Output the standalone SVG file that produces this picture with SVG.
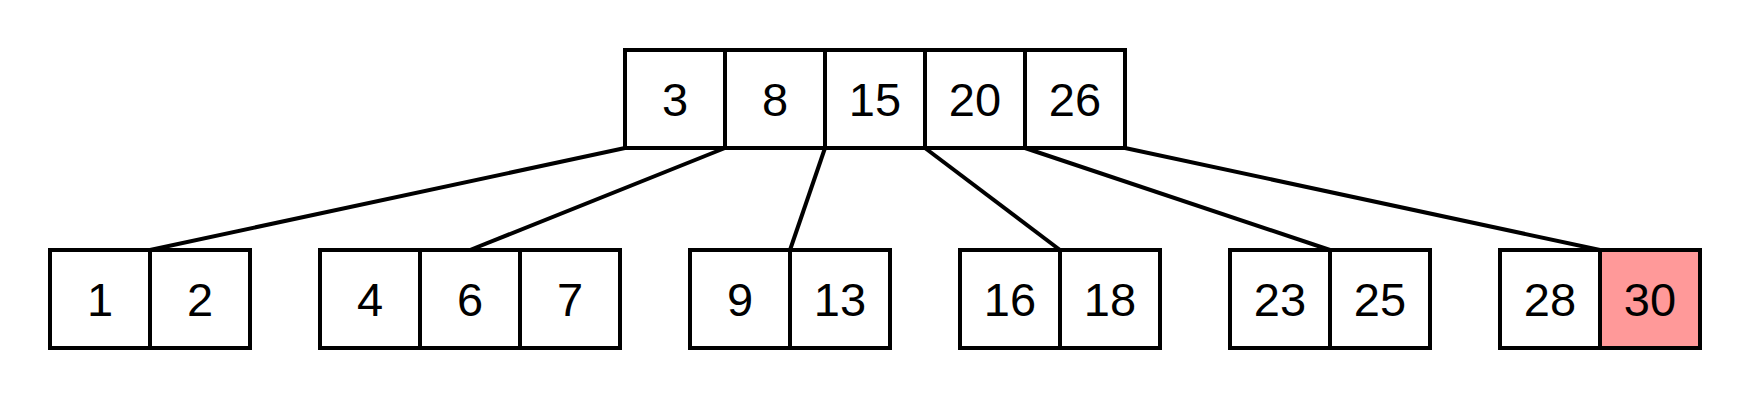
<svg xmlns="http://www.w3.org/2000/svg" width="1750" height="400" viewBox="0 0 1750 400">
<style>
.c{fill:#fff;stroke:#000;stroke-width:4}
.h{fill:#ff9999}
.t{font-family:"Liberation Sans",Arial,sans-serif;font-size:47px;text-anchor:middle;dominant-baseline:central;fill:#000}
.e{stroke:#000;stroke-width:4;fill:none}
</style>
<rect width="1750" height="400" fill="#fff"/>
<g id="connectors">
<line class="e" x1="625" y1="148" x2="150" y2="250"/>
<line class="e" x1="725" y1="148" x2="470" y2="250"/>
<line class="e" x1="825" y1="148" x2="790" y2="250"/>
<line class="e" x1="925" y1="148" x2="1060" y2="250"/>
<line class="e" x1="1025" y1="148" x2="1330" y2="250"/>
<line class="e" x1="1125" y1="148" x2="1600" y2="250"/>
</g>
<g id="root">
<rect class="c" x="625" y="50" width="100" height="98"/><text class="t" x="675" y="99">3</text>
<rect class="c" x="725" y="50" width="100" height="98"/><text class="t" x="775" y="99">8</text>
<rect class="c" x="825" y="50" width="100" height="98"/><text class="t" x="875" y="99">15</text>
<rect class="c" x="925" y="50" width="100" height="98"/><text class="t" x="975" y="99">20</text>
<rect class="c" x="1025" y="50" width="100" height="98"/><text class="t" x="1075" y="99">26</text>
</g>
<g id="leaf1">
<rect class="c" x="50" y="250" width="100" height="98"/><text class="t" x="100" y="299">1</text>
<rect class="c" x="150" y="250" width="100" height="98"/><text class="t" x="200" y="299">2</text>
</g>
<g id="leaf2">
<rect class="c" x="320" y="250" width="100" height="98"/><text class="t" x="370" y="299">4</text>
<rect class="c" x="420" y="250" width="100" height="98"/><text class="t" x="470" y="299">6</text>
<rect class="c" x="520" y="250" width="100" height="98"/><text class="t" x="570" y="299">7</text>
</g>
<g id="leaf3">
<rect class="c" x="690" y="250" width="100" height="98"/><text class="t" x="740" y="299">9</text>
<rect class="c" x="790" y="250" width="100" height="98"/><text class="t" x="840" y="299">13</text>
</g>
<g id="leaf4">
<rect class="c" x="960" y="250" width="100" height="98"/><text class="t" x="1010" y="299">16</text>
<rect class="c" x="1060" y="250" width="100" height="98"/><text class="t" x="1110" y="299">18</text>
</g>
<g id="leaf5">
<rect class="c" x="1230" y="250" width="100" height="98"/><text class="t" x="1280" y="299">23</text>
<rect class="c" x="1330" y="250" width="100" height="98"/><text class="t" x="1380" y="299">25</text>
</g>
<g id="leaf6">
<rect class="c" x="1500" y="250" width="100" height="98"/><text class="t" x="1550" y="299">28</text>
<rect class="c h" x="1600" y="250" width="100" height="98"/><text class="t" x="1650" y="299">30</text>
</g>
</svg>
